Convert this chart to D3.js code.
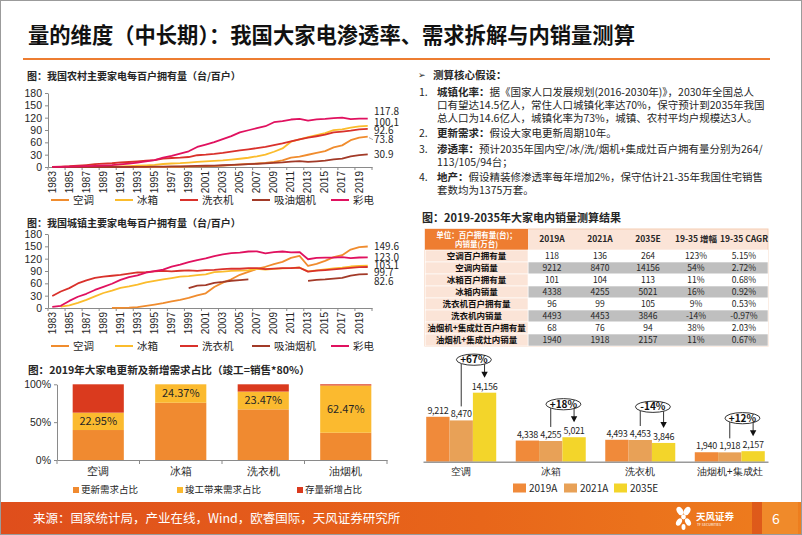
<!DOCTYPE html>
<html><head><meta charset="utf-8">
<script src="https://cdn.jsdelivr.net/npm/d3@7"></script>
<style>
body{margin:0;background:#fff;}
svg{display:block;font-family:"Noto Sans CJK SC","Noto Sans",sans-serif;}
</style></head><body>
<svg id="c" width="802" height="535"></svg>
<script>
// ---------------- DATA ----------------
const pageTitle = "量的维度（中长期）：我国大家电渗透率、需求拆解与内销量测算";
const years = [1983,1984,1985,1986,1987,1988,1989,1990,1991,1992,1993,1994,1995,1996,1997,1998,1999,2000,2001,2002,2003,2004,2005,2006,2007,2008,2009,2010,2011,2012,2013,2014,2015,2016,2017,2018,2019,2020];
const seriesNames = ["空调","冰箱","洗衣机","吸油烟机","彩电"];
const yTicks = [0,30,60,90,120,150,180];

// rural, per 100 households
const ruralAC = [0,0,0,0,0,0,0,0,0,0,0,0,0.2,0.3,0.4,0.6,0.7,1.3,1.7,2.3,3.5,4.7,6.4,7.3,8.5,9.8,12.2,16.0,22.6,25.4,29.8,34.2,38.8,47.6,52.6,65.2,71.3,73.8];
const ruralFridge = [0.0,0.1,0.1,0.2,0.3,0.6,0.9,1.2,1.6,2.2,3.1,4.0,5.2,7.3,8.5,9.3,10.6,12.3,13.6,14.8,15.9,17.8,20.1,22.5,26.1,30.2,37.1,45.2,61.5,67.3,72.9,77.6,82.6,89.5,91.7,95.9,98.6,100.1];
const ruralWasher = [0.4,1.1,1.9,3.2,4.8,6.8,8.2,9.1,11.0,12.2,13.8,15.3,16.9,20.5,21.9,22.8,24.3,28.6,29.9,31.8,34.3,37.3,40.2,43.0,45.9,49.1,53.1,57.3,62.6,67.2,71.2,74.8,78.8,84.0,86.3,88.5,91.6,92.6];
const ruralHood = [0,0,0,0,0,0,0,0,0,0,0.3,0.5,0.8,1.0,1.3,1.6,2.0,2.5,3.0,3.5,4.2,5.0,6.0,6.9,7.8,8.7,9.8,11.1,13.0,14.2,12.4,13.9,15.3,18.4,20.4,26.0,29.0,30.9];
const ruralTV = [0.3,0.5,0.8,1.5,2.3,2.8,3.6,4.7,6.4,8.1,10.9,13.5,16.9,22.9,27.3,32.6,38.2,48.7,54.4,60.5,67.8,75.1,84.1,89.4,94.4,99.2,108.9,111.8,115.5,116.9,112.9,115.6,116.9,118.8,120.0,116.6,117.6,117.8];

// urban, per 100 households
const urbanAC = [null,null,null,null,null,null,null,0.3,0.4,0.9,2.3,5.0,8.1,11.6,16.3,20.0,24.5,30.8,35.8,51.1,61.8,69.8,80.7,87.8,95.1,100.3,106.8,112.1,122.0,126.8,102.2,107.4,114.6,123.7,128.6,142.2,148.3,149.6];
const urbanFridge = [null,3.2,6.6,12.7,19.9,28.1,36.5,42.3,49.0,52.6,56.7,62.1,66.2,69.7,72.9,76.1,77.7,80.1,81.9,87.4,88.7,90.2,90.7,91.8,95.0,93.6,95.4,96.6,97.2,98.5,89.2,91.7,94.0,96.4,98.0,100.9,102.5,103.1];
const urbanWasher = [29.0,40.1,48.3,59.7,67.0,73.4,76.2,78.4,80.6,83.4,86.4,87.3,89.0,90.1,89.1,90.6,91.4,90.5,92.2,92.9,94.4,95.9,95.5,96.8,96.8,94.7,96.0,96.9,97.1,98.0,88.4,90.7,92.3,94.2,95.7,97.7,99.2,99.7];
const urbanHood = [null,null,null,null,null,null,null,null,null,null,null,null,null,null,null,null,48.5,54.4,55.8,61.2,63.5,66.3,67.9,69.5,null,null,null,null,null,null,66.1,68.4,69.4,71.5,73.3,79.0,81.6,82.6];
const urbanTV = [2.6,5.4,17.2,27.4,34.6,43.9,51.5,59.0,68.4,74.9,79.5,86.2,89.8,93.5,100.5,105.4,111.6,116.6,120.5,126.4,130.5,133.4,134.8,137.4,137.8,132.9,135.7,137.4,135.2,136.1,118.6,122.0,122.3,122.3,123.8,121.3,122.8,123.0];

// 2019 demand split (%)
const demandCats = ["空调","冰箱","洗衣机","油烟机"];
const demandSeries = ["更新需求占比","竣工带来需求占比","存量新增占比"];
const renewShare = [39.6,75.63,66.9,36.0];
const completionShare = [22.95,24.37,23.47,62.47];
const stockShare = [37.45,0,9.63,1.53];
const pctTicks = [0,50,100];

// assumptions text
const notesHead = "测算核心假设：";
const notes = [
  {n:"1.", b:"城镇化率：", lines:["据《国家人口发展规划(2016-2030年)》，2030年全国总人","口有望达14.5亿人，常住人口城镇化率达70%，保守预计到2035年我国","总人口为14.6亿人，城镇化率为73%，城镇、农村平均户规模达3人。"]},
  {n:"2.", b:"更新需求：", lines:["假设大家电更新周期10年。"]},
  {n:"3.", b:"渗透率：", lines:["预计2035年国内空/冰/洗/烟机+集成灶百户拥有量分别为264/","113/105/94台；"]},
  {n:"4.", b:"地产：", lines:["假设精装修渗透率每年增加2%，保守估计21-35年我国住宅销售","套数均为1375万套。"]}
];

// table
const tableTitle = "图：2019-2035年大家电内销量测算结果";
const tableCorner = ["单位：百户拥有量(台)；","内销量(万台)"];
const tableCols = ["2019A","2021A","2035E","19-35 增幅","19-35 CAGR"];
const tableRows = ["空调百户拥有量","空调内销量","冰箱百户拥有量","冰箱内销量","洗衣机百户拥有量","洗衣机内销量","油烟机+集成灶百户拥有量","油烟机+集成灶内销量"];
const tableVals = [
  ["118","136","264","123%","5.15%"],
  ["9212","8470","14156","54%","2.72%"],
  ["101","104","113","11%","0.68%"],
  ["4338","4255","5021","16%","0.92%"],
  ["96","99","105","9%","0.53%"],
  ["4493","4453","3846","-14%","-0.97%"],
  ["68","76","94","38%","2.03%"],
  ["1940","1918","2157","11%","0.67%"]
];

// domestic sales (10k units)
const salesCats = ["空调","冰箱","洗衣机","油烟机+集成灶"];
const salesSeries = ["2019A","2021A","2035E"];
const sales2019 = [9212,4338,4493,1940];
const sales2021 = [8470,4255,4453,1918];
const sales2035 = [14156,5021,3846,2157];
const growthLabels = ["+67%","+18%","-14%","+12%"];

const footerText = "来源：国家统计局，产业在线，Wind，欧睿国际，天风证券研究所";
const pageNo = "6";

// ---------------- STYLE ----------------
const lineColors = ["#F08C2E","#FBBC2C","#D9312B","#A23A28","#E0115F"];
const stackColors = ["#F08A30","#FBBA2F","#DA3A1E"];
const salesColors = ["#F08A3A","#E8A157","#F3D52A"];
const txt = "#262626";

const svg = d3.select("#c");
svg.append("rect").attr("x",0.5).attr("y",0.5).attr("width",801).attr("height",534)
  .attr("fill","#fff").attr("stroke","#9b9b9b");

// title
svg.append("text").attr("x",28).attr("y",43).attr("font-size",21.3).attr("font-weight",700)
  .attr("fill","#111").text(pageTitle);
svg.append("rect").attr("x",23).attr("y",58).attr("width",747).attr("height",2).attr("fill","#ED7D31");

// ---------------- LINE CHARTS ----------------
function lineChart(cfg){
  const g = svg.append("g");
  const x = d3.scaleBand().domain(years).range([48,372]);
  const y = d3.scaleLinear().domain([0,180]).range([cfg.y0, cfg.y0-74]);
  g.append("text").attr("x",27).attr("y",cfg.titleY).attr("font-size",10).attr("font-weight",700)
    .attr("fill",txt).text(cfg.title);
  const ya = g.append("g").attr("transform","translate(48,0)")
    .call(d3.axisLeft(y).tickValues(yTicks).tickSize(3).tickSizeOuter(0));
  ya.selectAll("text").attr("font-size",10.5).attr("fill",txt).attr("font-family","inherit");
  const xa = g.append("g").attr("transform",`translate(0,${cfg.y0})`)
    .call(d3.axisBottom(x).tickValues(years.filter((d,i)=>i%2===0)).tickSize(0).tickSizeOuter(0));
  xa.selectAll("text").attr("transform","rotate(-90)").attr("text-anchor","end")
    .attr("x",-4).attr("y",0).attr("dy","0.33em").attr("font-size",10).attr("fill",txt).attr("font-family","inherit");
  const bounds = years.filter((d,i)=>i%2===0).map(d=>x(d)).concat([372]);
  g.selectAll(".bt").data(bounds).join("line").attr("x1",d=>d).attr("x2",d=>d)
    .attr("y1",cfg.y0).attr("y2",cfg.y0+3).attr("stroke","#8a8a8a");
  [ya,xa].forEach(a=>{a.selectAll("path,line").attr("stroke","#8a8a8a");});
  const line = d3.line().defined(d=>d[1]!=null).x(d=>x(d[0])+x.bandwidth()/2).y(d=>y(d[1]));
  cfg.series.forEach((s,i)=>{
    g.append("path").datum(years.map((yr,j)=>[yr,s[j]])).attr("d",line).attr("fill","none")
      .attr("stroke",lineColors[i]).attr("stroke-width",1.8).attr("stroke-linejoin","round");
  });
  cfg.series.forEach((s,i)=>{
    const v = s[s.length-1];
    g.append("text").attr("x",374).attr("y",y(v)+cfg.dy[i]).attr("dy","0.35em")
      .attr("font-size",10).attr("fill",txt).text(v.toFixed(1));
  });
  if(cfg.leader!=null){
    const v = cfg.series[cfg.leader][years.length-1];
    g.append("line").attr("x1",369).attr("x2",373).attr("y1",y(v)+1).attr("y2",y(v)+cfg.dy[cfg.leader])
      .attr("stroke","#aaa");
  }
  const lx = [73,137,202,274,353];
  seriesNames.forEach((n,i)=>{
    g.append("line").attr("x1",lx[i]-22).attr("x2",lx[i]-4).attr("y1",cfg.legY).attr("y2",cfg.legY)
      .attr("stroke",lineColors[i]).attr("stroke-width",2);
    g.append("text").attr("x",lx[i]).attr("y",cfg.legY).attr("dy","0.35em").attr("font-size",10.5)
      .attr("fill",txt).text(n);
  });
}
lineChart({title:"图：我国农村主要家电每百户拥有量（台/百户）",titleY:80,y0:167,legY:200,
  series:[ruralAC,ruralFridge,ruralWasher,ruralHood,ruralTV],dy:[3,-3,1.5,0,-7],leader:0});
lineChart({title:"图：我国城镇主要家电每百户拥有量（台/百户）",titleY:227,y0:308,legY:346,
  series:[urbanAC,urbanFridge,urbanWasher,urbanHood,urbanTV],dy:[0,-0.5,5.5,7.5,0.5],leader:null});

// ---------------- STACKED 100% ----------------
(function(){
  const g = svg.append("g");
  g.append("text").attr("x",28).attr("y",374).attr("font-size",10.6).attr("font-weight",700)
    .attr("fill",txt).text("图：2019年大家电更新及新增需求占比（竣工=销售*80%）");
  const x = d3.scaleBand().domain(demandCats).range([57,387]).paddingInner(0.38).paddingOuter(0.19);
  const y = d3.scaleLinear().domain([0,100]).range([460,384.3]);
  const rows = demandCats.map((c,i)=>({cat:c,"更新需求占比":renewShare[i],"竣工带来需求占比":completionShare[i],"存量新增占比":stockShare[i]}));
  const stack = d3.stack().keys(demandSeries)(rows);
  stack.forEach((layer,k)=>{
    g.selectAll(null).data(layer).join("rect").attr("x",d=>x(d.data.cat)).attr("width",x.bandwidth())
      .attr("y",d=>y(d[1])).attr("height",d=>y(d[0])-y(d[1])).attr("fill",stackColors[k]);
  });
  stack[1].forEach(d=>{
    g.append("text").attr("x",x(d.data.cat)+x.bandwidth()/2).attr("y",(y(d[0])+y(d[1]))/2)
      .attr("dy","0.35em").attr("text-anchor","middle").attr("font-size",11).attr("fill",txt)
      .text(d.data["竣工带来需求占比"].toFixed(2)+"%");
  });
  const ya = g.append("g").attr("transform","translate(57,0)")
    .call(d3.axisLeft(y).tickValues(pctTicks).tickFormat(d=>d+"%").tickSize(3).tickSizeOuter(0));
  ya.selectAll("text").attr("font-size",10.5).attr("fill",txt).attr("font-family","inherit");
  const xa = g.append("g").attr("transform","translate(0,460)")
    .call(d3.axisBottom(x).tickSize(0).tickSizeOuter(0).tickPadding(8));
  xa.selectAll("text").attr("font-size",10.5).attr("fill",txt).attr("font-family","inherit");
  [ya,xa].forEach(a=>a.selectAll("path,line").attr("stroke","#8a8a8a"));
  const step = x.step();
  const b = [57].concat(demandCats.map(c=>x(c)+x.bandwidth()+(step-x.bandwidth())/2));
  g.selectAll(".bt2").data(b).join("line").attr("x1",d=>d).attr("x2",d=>d).attr("y1",460).attr("y2",464).attr("stroke","#8a8a8a");
  const lx = [73,177,297];
  demandSeries.forEach((n,i)=>{
    g.append("rect").attr("x",lx[i]).attr("y",487).attr("width",6).attr("height",6).attr("fill",stackColors[i]);
    g.append("text").attr("x",lx[i]+8).attr("y",490).attr("dy","0.35em").attr("font-size",9.5).attr("fill",txt).text(n);
  });
})();

// ---------------- NOTES ----------------
(function(){
  const g = svg.append("g").attr("fill",txt);
  g.append("text").attr("x",418).attr("y",75).attr("dy","0.35em").attr("font-size",9).text("➢");
  g.append("text").attr("x",433).attr("y",75).attr("dy","0.35em").attr("font-size",10.5).attr("font-weight",700).text(notesHead);
  const ys = [[92,105.7,118.7],[133.3],[149.3,162.3],[177.3,190.7]];
  notes.forEach((it,i)=>{
    g.append("text").attr("x",419).attr("y",ys[i][0]).attr("dy","0.35em").attr("font-size",10.5).text(it.n);
    it.lines.forEach((l,j)=>{
      const t = g.append("text").attr("x",437).attr("y",ys[i][j]).attr("dy","0.35em").attr("font-size",10.5);
      if(j===0){ t.append("tspan").attr("font-weight",700).text(it.b); }
      t.append("tspan").text(l);
    });
  });
})();

// ---------------- TABLE ----------------
(function(){
  const g = svg.append("g");
  g.append("text").attr("x",422).attr("y",218).attr("dy","0.35em").attr("font-size",11).attr("font-weight",700)
    .attr("fill",txt).text(tableTitle);
  const cx = d3.scaleBand().domain(tableCols).range([528,768]);
  const ry = d3.scaleBand().domain(tableRows).range([250,346]);
  g.append("rect").attr("x",425).attr("y",229).attr("width",343).attr("height",117).attr("fill","#FBE4D7").attr("stroke","#F6CDB3");
  g.append("rect").attr("x",425).attr("y",229).attr("width",103).attr("height",21).attr("fill","#EE7D31");
  tableCorner.forEach((t,i)=>g.append("text").attr("x",476.5).attr("y",235+i*9.5).attr("dy","0.35em")
    .attr("text-anchor","middle").attr("font-size",7.5).attr("font-weight",700).attr("fill","#fff").text(t));
  tableCols.forEach(c=>g.append("text").attr("x",cx(c)+cx.bandwidth()/2).attr("y",239.5).attr("dy","0.35em")
    .attr("text-anchor","middle").attr("font-size",8.5).attr("font-weight",700).attr("fill",txt).text(c));
  tableRows.forEach((r,i)=>{
    g.append("rect").attr("x",528).attr("y",ry(r)).attr("width",240).attr("height",ry.bandwidth())
      .attr("fill",i%2===0?"#FFFFFF":"#BFBFBF").attr("stroke","#fff").attr("stroke-width",0.6);
    g.append("rect").attr("x",425.5).attr("y",ry(r)).attr("width",102.5).attr("height",ry.bandwidth())
      .attr("fill","#FBE4D7").attr("stroke","#fff").attr("stroke-width",0.6);
    g.append("text").attr("x",476.5).attr("y",ry(r)+ry.bandwidth()/2).attr("dy","0.35em").attr("text-anchor","middle")
      .attr("font-size",8.5).attr("font-weight",700).attr("fill","#111").text(r);
    tableCols.forEach((c,j)=>g.append("text").attr("x",cx(c)+cx.bandwidth()/2).attr("y",ry(r)+ry.bandwidth()/2)
      .attr("dy","0.35em").attr("text-anchor","middle").attr("font-size",8.5).attr("fill",txt).text(tableVals[i][j]));
  });
})();

// ---------------- SALES BARS ----------------
(function(){
  const g = svg.append("g");
  const x = d3.scaleBand().domain(salesCats).range([423,768]).paddingInner(0.218).paddingOuter(0.036);
  const xs = d3.scaleBand().domain(salesSeries).range([0,x.bandwidth()]);
  const y = d3.scaleLinear().domain([0,16000]).range([461.7,383.7]);
  const vals = [sales2019,sales2021,sales2035];
  const fmt = d3.format(",");
  salesSeries.forEach((s,k)=>{
    salesCats.forEach((c,i)=>{
      const v = vals[k][i];
      g.append("rect").attr("x",x(c)+xs(s)).attr("width",xs.bandwidth()).attr("y",y(v)).attr("height",y(0)-y(v)).attr("fill",salesColors[k]);
      g.append("text").attr("x",x(c)+xs(s)+xs.bandwidth()/2).attr("y",y(v)-3).attr("text-anchor","middle")
        .attr("font-size",9).attr("letter-spacing",-0.3).attr("fill",txt).text(fmt(v));
    });
  });
  const xa = g.append("g").attr("transform","translate(0,461.7)")
    .call(d3.axisBottom(x).tickSize(0).tickSizeOuter(0).tickPadding(6));
  xa.select("path").attr("stroke","#9a9a9a").attr("stroke-width",1.5);
  xa.selectAll("text").attr("font-size",10).attr("fill",txt).attr("font-family","inherit");
  salesCats.forEach((c,i)=>{
    const xL = x(c)+xs("2021A")+xs.bandwidth()/2, xR = x(c)+xs("2035E")+xs.bandwidth()/2;
    const top = y(Math.max(sales2019[i],sales2021[i],sales2035[i]));
    const cy = top-33, cxm = (xL+xR)/2+1;
    const tip = y(sales2035[i])-15;
    g.append("line").attr("x1",xL).attr("x2",xL).attr("y1",cy).attr("y2",y(sales2021[i])-14).attr("stroke","#333").attr("stroke-width",1);
    g.append("line").attr("x1",xR).attr("x2",xR).attr("y1",cy).attr("y2",tip-5).attr("stroke","#333").attr("stroke-width",1);
    g.append("path").attr("d",`M${xR-3.2},${tip-6}L${xR+3.2},${tip-6}L${xR},${tip}Z`).attr("fill","#111");
    g.append("ellipse").attr("cx",cxm).attr("cy",cy).attr("rx",17.5).attr("ry",5.6).attr("fill","#fff").attr("stroke","#333");
    g.append("text").attr("x",cxm).attr("y",cy).attr("dy","0.35em").attr("text-anchor","middle")
      .attr("font-size",10).attr("font-weight",700).attr("fill","#111").text(growthLabels[i]);
  });
  const lx = [513,564,614];
  salesSeries.forEach((s,k)=>{
    g.append("rect").attr("x",lx[k]).attr("y",483.5).attr("width",13).attr("height",9).attr("fill",salesColors[k]);
    g.append("text").attr("x",lx[k]+16).attr("y",488).attr("dy","0.35em").attr("font-size",10).attr("fill",txt).text(s);
  });
})();

// ---------------- FOOTER ----------------
(function(){
  const defs = svg.append("defs");
  const lg = defs.append("linearGradient").attr("id","fg").attr("x1","0").attr("x2","1").attr("y1","0").attr("y2","0");
  lg.append("stop").attr("offset","0").attr("stop-color","#DF4E1C");
  lg.append("stop").attr("offset","0.6").attr("stop-color","#E8661A");
  lg.append("stop").attr("offset","1").attr("stop-color","#EE7E1E");
  svg.append("rect").attr("x",1).attr("y",502).attr("width",800).attr("height",32).attr("fill","url(#fg)");
  svg.append("rect").attr("x",752).attr("y",502).attr("width",10).attr("height",32).attr("fill","#D9531A").attr("opacity",0.8);
  svg.append("rect").attr("x",762).attr("y",502).attr("width",36).attr("height",32).attr("fill","#F08A2A");
  svg.append("text").attr("x",33).attr("y",519).attr("dy","0.35em").attr("font-size",12.5).attr("fill","#fff").text(footerText);
  const lg2 = svg.append("g").attr("fill","#fff");
  [[680,511,3,4.5,-30],[687,511,3,4.5,30],[683.5,517,2.4,2.4,0],[679,522,2.6,4,30],[688,522,2.6,4,-30],[683.5,527,2,3,0]].forEach(p=>{
    lg2.append("ellipse").attr("cx",p[0]).attr("cy",p[1]).attr("rx",p[2]).attr("ry",p[3]).attr("transform",`rotate(${p[4]},${p[0]},${p[1]})`);
  });
  lg2.append("text").attr("x",696).attr("y",517).attr("dy","0.35em").attr("font-size",9.5).attr("font-weight",700).text("天风证券");
  lg2.append("text").attr("x",697).attr("y",525).attr("dy","0.35em").attr("font-size",3.5).text("TF SECURITIES");
  svg.append("text").attr("x",776).attr("y",519).attr("dy","0.35em").attr("text-anchor","middle").attr("font-size",14).attr("fill","#fff").text(pageNo);
})();
</script>
</body></html>
